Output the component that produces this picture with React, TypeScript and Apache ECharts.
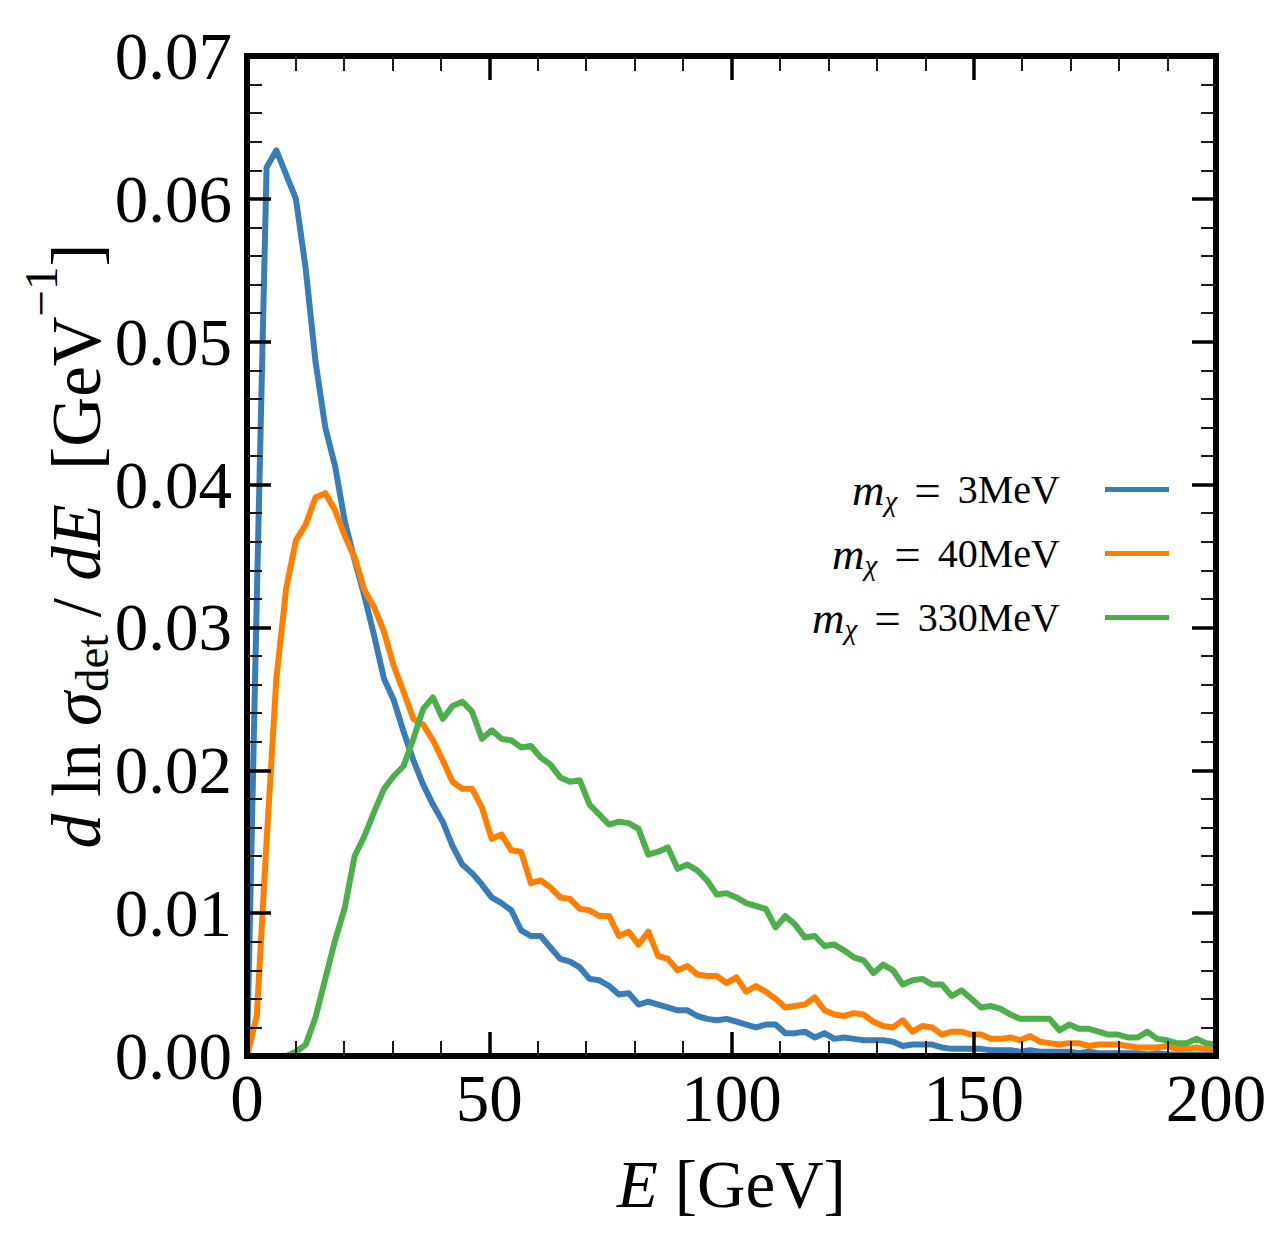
import React, { useEffect, useRef } from "react";
import * as echarts from "echarts";

const FONT = '"Liberation Serif", "Times New Roman", serif';

// Energy grid [GeV]
const energies = [
  0, 2.02, 4.04, 6.06, 8.08, 10.1, 12.12, 14.14, 16.16, 18.18,
  20.2, 22.22, 24.24, 26.26, 28.28, 30.3, 32.32, 34.34, 36.36, 38.38,
  40.4, 42.42, 44.44, 46.46, 48.48, 50.51, 52.53, 54.55, 56.57, 58.59,
  60.61, 62.63, 64.65, 66.67, 68.69, 70.71, 72.73, 74.75, 76.77, 78.79,
  80.81, 82.83, 84.85, 86.87, 88.89, 90.91, 92.93, 94.95, 96.97, 98.99,
  101.01, 103.03, 105.05, 107.07, 109.09, 111.11, 113.13, 115.15, 117.17, 119.19,
  121.21, 123.23, 125.25, 127.27, 129.29, 131.31, 133.33, 135.35, 137.37, 139.39,
  141.41, 143.43, 145.45, 147.47, 149.49, 151.52, 153.54, 155.56, 157.58, 159.6,
  161.62, 163.64, 165.66, 167.68, 169.7, 171.72, 173.74, 175.76, 177.78, 179.8,
  181.82, 183.84, 185.86, 187.88, 189.9, 191.92, 193.94, 195.96, 197.98, 200,
];

// d ln sigma_det / dE [GeV^-1], m_chi = 3 MeV
const sigma3MeV = [
  0, 0.032, 0.0622, 0.0634, 0.0617, 0.06, 0.0551, 0.0486, 0.044, 0.0413,
  0.0374, 0.0347, 0.0322, 0.0294, 0.0264, 0.0249, 0.0227, 0.0207, 0.019, 0.0176,
  0.0164, 0.0147, 0.0134, 0.0128, 0.012, 0.0111, 0.0107, 0.0102, 0.0088, 0.0084,
  0.0084, 0.0076, 0.0068, 0.0066, 0.0062, 0.0054, 0.0053, 0.0049, 0.0043, 0.0044,
  0.0036, 0.0038, 0.0036, 0.0034, 0.0032, 0.0032, 0.0028, 0.0026, 0.0025, 0.0026,
  0.0024, 0.0022, 0.002, 0.0022, 0.0022, 0.0016, 0.0016, 0.0017, 0.0013, 0.0016,
  0.0012, 0.0013, 0.0012, 0.0011, 0.0011, 0.0011, 0.001, 0.0007, 0.0008, 0.0008,
  0.0008, 0.0006, 0.0005, 0.0005, 0.0005, 0.0005, 0.0004, 0.0004, 0.0004, 0.0003,
  0.0004, 0.0003, 0.0003, 0.0003, 0.0003, 0.0002, 0.0003, 0.0002, 0.0002, 0.0002,
  0.0002, 0.0002, 0.0001, 0.0002, 0.0001, 0.0001, 0.0001, 0.0001, 0.0001, 0.0001,
];

// m_chi = 40 MeV
const sigma40MeV = [
  0, 0.0028, 0.015, 0.0264, 0.0327, 0.0361, 0.0372, 0.0391, 0.0394, 0.0382,
  0.0364, 0.0349, 0.0326, 0.0314, 0.0297, 0.0273, 0.0255, 0.0236, 0.0232, 0.0221,
  0.0207, 0.0192, 0.0187, 0.0187, 0.0174, 0.0152, 0.0155, 0.0144, 0.0143, 0.0121,
  0.0123, 0.0118, 0.0111, 0.011, 0.0103, 0.0102, 0.0098, 0.0098, 0.0084, 0.0087,
  0.0078, 0.0087, 0.007, 0.0068, 0.006, 0.0063, 0.0057, 0.0056, 0.0056, 0.0051,
  0.0055, 0.0045, 0.0049, 0.0045, 0.004, 0.0034, 0.0035, 0.0036, 0.0041, 0.0032,
  0.0029, 0.0028, 0.003, 0.0029, 0.0024, 0.0021, 0.002, 0.0025, 0.0017, 0.0021,
  0.002, 0.0015, 0.0017, 0.0017, 0.0015, 0.0015, 0.0012, 0.0012, 0.0013, 0.0011,
  0.0014, 0.001, 0.0009, 0.0008, 0.0009, 0.0009, 0.0007, 0.0008, 0.0008, 0.0008,
  0.0007, 0.0006, 0.0006, 0.0006, 0.0007, 0.0005, 0.0005, 0.0006, 0.0005, 0.0004,
];

// m_chi = 330 MeV
const sigma330MeV = [
  0, 0, 0, 0, 0, 0.0003, 0.0008, 0.0027, 0.0054, 0.0081,
  0.0104, 0.014, 0.0154, 0.0171, 0.0187, 0.0196, 0.0203, 0.0222, 0.0243, 0.0251,
  0.0236, 0.0245, 0.0248, 0.0241, 0.0222, 0.0228, 0.0222, 0.0221, 0.0216, 0.0217,
  0.0209, 0.0204, 0.0195, 0.0192, 0.0193, 0.0176, 0.0169, 0.0162, 0.0164, 0.0163,
  0.0159, 0.0141, 0.0143, 0.0146, 0.0131, 0.0134, 0.013, 0.0123, 0.0113, 0.0114,
  0.0111, 0.0107, 0.0105, 0.0103, 0.009, 0.0098, 0.0092, 0.0083, 0.0084, 0.0077,
  0.0078, 0.0074, 0.0069, 0.0067, 0.0058, 0.0064, 0.006, 0.005, 0.0053, 0.0054,
  0.005, 0.005, 0.0042, 0.0046, 0.004, 0.0034, 0.0035, 0.0033, 0.0029, 0.0026,
  0.0026, 0.0026, 0.0026, 0.0018, 0.0022, 0.0019, 0.0019, 0.0017, 0.0015, 0.0015,
  0.0013, 0.0013, 0.0017, 0.0012, 0.0011, 0.0009, 0.0009, 0.0012, 0.0009, 0.0008,
];

const massLabels = ["3MeV", "40MeV", "330MeV"];
const seriesNames = ["m_χ = 3MeV", "m_χ = 40MeV", "m_χ = 330MeV"];
const seriesColors = ["#377eb8", "#ff7f00", "#4daf4a"];
const seriesValues = [sigma3MeV, sigma40MeV, sigma330MeV];

const xMin = 0;
const xMax = 200;
const xInterval = 50;
const yMin = 0;
const yMax = 0.07;
const yInterval = 0.01;

export default function App() {
  const ref = useRef<HTMLDivElement>(null);

  useEffect(() => {
    if (!ref.current) return;
    const chart = echarts.init(ref.current, null, { renderer: "svg" });

    const axisLine = {
      show: true,
      onZero: false,
      lineStyle: { color: "#000", width: 6, cap: "square" },
    };
    const axisTick = {
      show: true,
      inside: true,
      length: 24,
      lineStyle: { color: "#000", width: 3.5 },
    };
    const minorTick = {
      show: true,
      splitNumber: 5,
      length: 15,
      lineStyle: { color: "#1a1a1a", width: 2 },
    };
    const labelStyle = {
      color: "#000",
      fontFamily: FONT,
      fontSize: 67,
    };

    const xBase = {
      type: "value",
      min: xMin,
      max: xMax,
      interval: xInterval,
      z: 10,
      axisLine,
      axisTick,
      minorTick,
      splitLine: { show: false },
      minorSplitLine: { show: false },
    };
    const yBase = {
      type: "value",
      min: yMin,
      max: yMax,
      interval: yInterval,
      z: 10,
      axisLine,
      axisTick,
      minorTick,
      splitLine: { show: false },
      minorSplitLine: { show: false },
    };

    const option = {
      animation: false,
      backgroundColor: "#ffffff",
      grid: { left: 247, right: 72, top: 56, bottom: 191, containLabel: false },
      xAxis: [
        {
          ...xBase,
          position: "bottom",
          axisLabel: { ...labelStyle, margin: 8 },
          name: "{i|E} {r|[GeV]}",
          nameLocation: "middle",
          nameGap: 94,
          nameTextStyle: {
            color: "#000",
            fontFamily: FONT,
            fontSize: 67,
            rich: {
              i: { fontFamily: FONT, fontSize: 67, fontStyle: "italic", color: "#000" },
              r: { fontFamily: FONT, fontSize: 67, color: "#000" },
            },
          },
        },
        {
          ...xBase,
          position: "top",
          axisLabel: { show: false },
        },
      ],
      yAxis: [
        {
          ...yBase,
          position: "left",
          axisLabel: {
            ...labelStyle,
            margin: 15,
            formatter: (v: number) => v.toFixed(2),
          },
        },
        {
          ...yBase,
          position: "right",
          axisLabel: { show: false },
        },
      ],
      legend: {
        orient: "vertical",
        right: 119,
        top: 466,
        padding: 0,
        align: "right",
        icon: "rect",
        itemWidth: 64,
        itemHeight: 5,
        itemGap: 15,
        selectedMode: false,
        data: seriesNames,
        formatter: (name: string) => {
          const i = seriesNames.indexOf(name);
          return `{i|m}{s|χ}{w| }{e|=}{w| }{r|${massLabels[i]}}{g| }`;
        },
        textStyle: {
          color: "#000",
          fontFamily: FONT,
          fontSize: 40,
          lineHeight: 46,
          rich: {
            i: { fontFamily: FONT, fontSize: 45, fontStyle: "italic", lineHeight: 46, verticalAlign: "middle", color: "#000" },
            s: { fontFamily: FONT, fontSize: 29, fontStyle: "italic", lineHeight: 20, height: 24, verticalAlign: "bottom", color: "#000" },
            e: { fontFamily: FONT, fontSize: 47, lineHeight: 46, verticalAlign: "middle", color: "#000" },
            r: { fontFamily: FONT, fontSize: 40, lineHeight: 46, verticalAlign: "middle", color: "#000" },
            w: { width: 17, fontSize: 40, lineHeight: 46 },
            g: { width: 40, fontSize: 40, lineHeight: 46 },
          },
        },
      },
      graphic: [
        {
          type: "text",
          x: 77,
          y: 546,
          rotation: Math.PI / 2,
          z: 100,
          style: {
            text: "{i|d}{r| ln }{i|σ}{sb|det}{r| / }{i|dE}{r|  [GeV}{sp|−1}{r|]}",
            align: "center",
            verticalAlign: "middle",
            fontFamily: FONT,
            fontSize: 69,
            fill: "#000",
            rich: {
              i: { fontFamily: FONT, fontSize: 69, fontStyle: "italic", lineHeight: 100, verticalAlign: "middle", fill: "#000" },
              r: { fontFamily: FONT, fontSize: 69, lineHeight: 100, verticalAlign: "middle", fill: "#000" },
              sb: { fontFamily: FONT, fontSize: 47, lineHeight: 40, height: 70, verticalAlign: "bottom", fill: "#000" },
              sp: { fontFamily: FONT, fontSize: 47, lineHeight: 28, height: 28, verticalAlign: "top", fill: "#000" },
            },
          },
        },
      ],
      series: seriesNames.map((name, s) => ({
        name,
        type: "line",
        xAxisIndex: 0,
        yAxisIndex: 0,
        data: energies.map((e, i) => [e, seriesValues[s][i]]),
        showSymbol: false,
        symbol: "none",
        color: seriesColors[s],
        itemStyle: { color: seriesColors[s] },
        lineStyle: { color: seriesColors[s], width: 6, join: "round" },
        emphasis: { disabled: true },
        z: 2,
      })),
    };

    chart.setOption(option as any);
    return () => {
      chart.dispose();
    };
  }, []);

  return (
    <div
      ref={ref}
      style={{
        position: "fixed",
        left: 0,
        top: 0,
        width: 1288,
        height: 1247,
        background: "#fff",
      }}
    />
  );
}
